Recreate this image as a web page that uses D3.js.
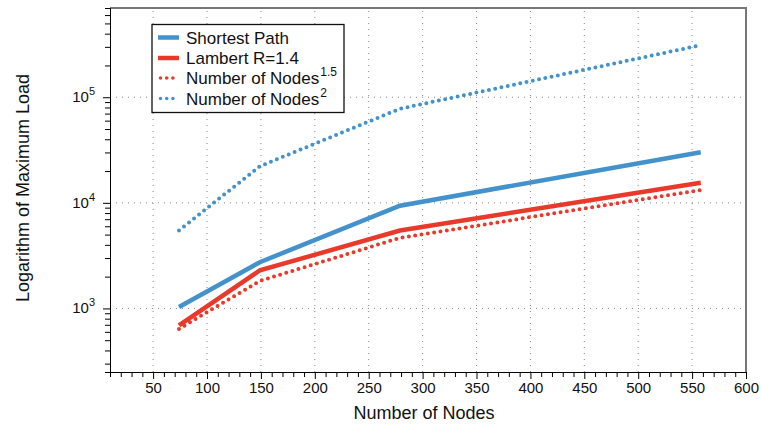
<!DOCTYPE html>
<html>
<head>
<meta charset="utf-8">
<script src="https://cdn.jsdelivr.net/npm/d3@7"></script>
<style>
  body { margin: 0; background: #fff; }
  text { font-family: "Liberation Sans", Arial, Helvetica, sans-serif; fill: #111; }
</style>
</head>
<body>
<svg id="chart"></svg>
<script>
// data
var nodes = [74, 149, 279, 558]
var shortestPath = [1030, 2740, 9400, 30100]
var lambert = [690, 2290, 5470, 15500]
var nodes15 = [640, 1820, 4660, 13200]
var nodes2 = [5480, 22200, 77800, 311000]
var xTicks = [50, 100, 150, 200, 250, 300, 350, 400, 450, 500, 550, 600]
var yMajor = [1000, 10000, 100000]

var width = 761, height = 428
var margin = {left: 110, right: 15, top: 8, bottom: 56}
var blue = '#4392cc', red = '#e8392b'

var svg = d3.select('#chart')
    .attr('width', width)
    .attr('height', height)

var x = d3.scaleLinear()
    .domain([10, 600])
    .range([margin.left, width - margin.right])
var y = d3.scaleLog()
    .domain([250, 700000])
    .range([height - margin.bottom, margin.top])

var x0 = x.range()[0], x1 = x.range()[1]
var y0 = y.range()[0], y1 = y.range()[1]

// grid
svg.append('g').selectAll('line')
    .data(xTicks.filter(function (d) { return d < 600 }))
    .enter().append('line')
    .attr('x1', function (d) { return x(d) }).attr('x2', function (d) { return x(d) })
    .attr('y1', y0).attr('y2', y1)
    .attr('stroke', '#888').attr('stroke-width', 1).attr('stroke-dasharray', '1 5')
svg.append('g').selectAll('line')
    .data(yMajor)
    .enter().append('line')
    .attr('y1', function (d) { return y(d) }).attr('y2', function (d) { return y(d) })
    .attr('x1', x0).attr('x2', x1)
    .attr('stroke', '#888').attr('stroke-width', 1).attr('stroke-dasharray', '1 5')

// frame top/right
svg.append('path')
    .attr('d', 'M' + x0 + ',' + y1 + 'H' + x1 + 'V' + y0)
    .attr('fill', 'none').attr('stroke', '#777').attr('stroke-width', 2)

// x axis
var xMinor = d3.range(10, 601, 10)
var xAxis = d3.axisBottom(x)
    .tickValues(xMinor)
    .tickSizeOuter(0)
    .tickSize(5)
    .tickFormat(function (d) { return xTicks.indexOf(d) >= 0 ? d : '' })
var gx = svg.append('g')
    .attr('transform', 'translate(0,' + y0 + ')')
    .call(xAxis)
gx.select('.domain').attr('stroke', '#000')
gx.selectAll('.tick line')
    .attr('y2', function (d) { return d % 50 === 0 ? 7 : 5 })
gx.selectAll('.tick text')
    .attr('y', 10)
    .attr('font-size', 15)
    .attr('font-family', '"Liberation Sans", Arial, sans-serif')
    .attr('fill', '#111')

// y axis
var yMinor = []
;[100, 1000, 10000, 100000].forEach(function (dec) {
    for (var k = 1; k <= 9; k++) {
        var v = dec * k
        if (v >= 250 && v <= 700000) yMinor.push(v)
    }
})
var yAxis = d3.axisLeft(y)
    .tickValues(yMinor)
    .tickSizeOuter(0)
    .tickSize(5)
    .tickFormat('')
var gy = svg.append('g')
    .attr('transform', 'translate(' + x0 + ',0)')
    .call(yAxis)
gy.select('.domain').attr('stroke', '#000')
gy.selectAll('.tick line')
    .attr('x2', function (d) { return yMajor.indexOf(d) >= 0 ? -7 : -5 })

var yLab = svg.append('g').selectAll('text')
    .data(yMajor)
    .enter().append('text')
    .attr('x', x0 - 15)
    .attr('y', function (d) { return y(d) + 5 })
    .attr('text-anchor', 'end')
    .attr('font-size', 15)
yLab.append('tspan').text('10')
yLab.append('tspan')
    .attr('dy', -7)
    .attr('font-size', 11)
    .text(function (d) { return Math.round(Math.log10(d)) })

// axis titles
svg.append('text')
    .attr('x', (x0 + x1) / 2 - 4)
    .attr('y', 419)
    .attr('text-anchor', 'middle')
    .attr('font-size', 18)
    .text('Number of Nodes')
svg.append('text')
    .attr('transform', 'translate(29,188) rotate(-90)')
    .attr('text-anchor', 'middle')
    .attr('font-size', 18)
    .text('Logarithm of Maximum Load')

// series
var series = [
    {name: 'Shortest Path', values: shortestPath, color: blue, dotted: false},
    {name: 'Lambert R=1.4', values: lambert, color: red, dotted: false},
    {name: 'Number of Nodes', sup: '1.5', values: nodes15, color: red, dotted: true},
    {name: 'Number of Nodes', sup: '2', values: nodes2, color: blue, dotted: true}
]

var line = d3.line()
    .x(function (d, i) { return x(nodes[i]) })
    .y(function (d) { return y(d) })

series.forEach(function (s) {
    svg.append('path')
        .datum(s.values)
        .attr('d', line)
        .attr('fill', 'none')
        .attr('stroke', s.color)
        .attr('stroke-width', s.dotted ? 4 : 4.5)
        .attr('stroke-linecap', s.dotted ? 'round' : 'butt')
        .attr('stroke-dasharray', s.dotted ? '0 6.4' : null)
})

// legend
var lg = svg.append('g')
lg.append('rect')
    .attr('x', 152).attr('y', 24.5)
    .attr('width', 192).attr('height', 88)
    .attr('fill', '#fff').attr('stroke', '#111').attr('stroke-width', 1.3)

var rowY = [37.5, 58, 78, 98.5]
series.forEach(function (s, i) {
    lg.append('line')
        .attr('x1', s.dotted ? 160.5 : 158).attr('x2', s.dotted ? 173 : 179)
        .attr('y1', rowY[i]).attr('y2', rowY[i])
        .attr('stroke', s.color)
        .attr('stroke-width', s.dotted ? 3.6 : 4.5)
        .attr('stroke-linecap', s.dotted ? 'round' : 'butt')
        .attr('stroke-dasharray', s.dotted ? '0 6.2' : null)
    var t = lg.append('text')
        .attr('x', 186)
        .attr('y', rowY[i] + 6)
        .attr('font-size', 17)
    t.append('tspan').text(s.name)
    if (s.sup) {
        t.append('tspan')
            .attr('dy', -8)
            .attr('dx', 1)
            .attr('font-size', 12)
            .text(s.sup)
    }
})
</script>
</body>
</html>
